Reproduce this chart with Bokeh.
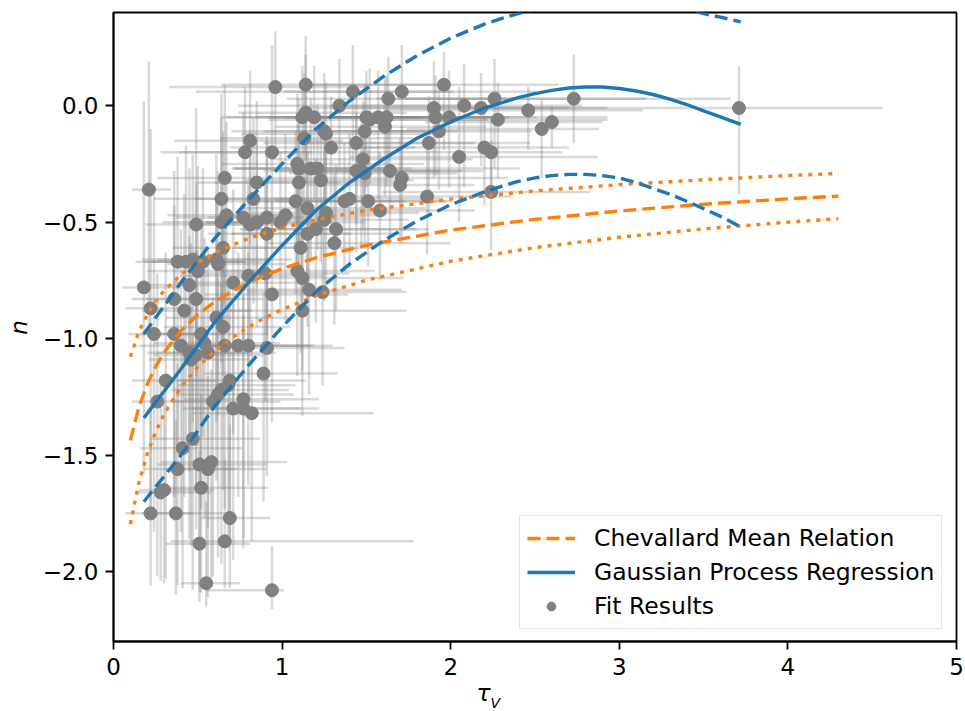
import math
from bokeh.plotting import figure
from bokeh.models import (Range1d, FixedTicker, CustomJSTickFormatter, Legend,
                          LegendItem, Label)
from bokeh.embed import file_html
from bokeh.resources import INLINE

# ---------------- data ----------------
tau_v = [0.96, 1.14, 1.12, 1.14, 1.13, 0.81, 0.78, 0.94, 1.09, 1.10,
         0.66, 0.85, 1.10, 0.21, 0.64, 0.83, 1.08, 1.15, 0.67, 0.77,
         0.81, 0.85, 0.91, 1.02, 0.99, 0.64, 0.49, 0.91, 1.15, 1.11,
         0.65, 1.96, 1.42, 1.71, 1.63, 2.26, 1.34, 2.08, 1.90, 2.18,
         1.19, 1.91, 1.50, 1.52, 1.57, 1.62, 1.99, 2.28, 1.25, 1.26,
         1.49, 1.61, 1.93, 1.44, 1.29, 1.87, 2.20, 2.24, 2.05, 1.48,
         1.17, 1.21, 1.64, 1.44, 1.47, 1.49, 1.71, 1.70, 1.23, 1.86,
         2.24, 1.37, 1.40, 1.51, 1.58, 1.26, 1.25, 1.20, 1.32, 1.31,
         2.46, 2.73, 2.54, 2.60, 3.71,
         0.38, 0.43, 0.47, 0.53, 0.61, 0.62, 0.18, 0.50, 0.45, 0.71,
         0.80, 0.90, 1.09, 1.12, 1.16, 0.94, 0.49, 0.22, 0.36, 0.42,
         0.61, 0.65, 0.24, 0.36, 0.52, 0.40, 0.54, 0.66, 0.74, 0.80,
         0.45, 0.49, 0.46, 0.56, 0.91, 0.89, 0.31, 0.69, 0.68, 0.64,
         0.62, 0.59, 0.77, 0.71, 0.77, 0.82, 0.26, 0.41, 0.47, 0.38,
         0.51, 0.58, 0.56, 0.28, 0.30, 0.52, 0.22, 0.37, 0.69, 0.51,
         0.66, 0.55, 0.94, 1.24, 1.12]

n_val = [0.08, 0.09, -0.05, -0.03, -0.14, -0.15, -0.20, -0.20, -0.25, -0.27,
         -0.31, -0.33, -0.33, -0.36, -0.40, -0.40, -0.41, -0.44, -0.47, -0.48,
         -0.51, -0.50, -0.48, -0.47, -0.50, -0.50, -0.51, -0.55, -0.55, -0.61,
         -0.61, 0.09, 0.06, 0.06, 0.03, 0.03, 0.00, 0.00, -0.01, -0.01,
         -0.05, -0.05, -0.05, -0.06, -0.05, -0.05, -0.05, -0.06, -0.11, -0.12,
         -0.11, -0.09, -0.11, -0.16, -0.18, -0.16, -0.18, -0.20, -0.22, -0.23,
         -0.27, -0.27, -0.28, -0.28, -0.28, -0.29, -0.31, -0.34, -0.32, -0.39,
         -0.37, -0.41, -0.40, -0.41, -0.45, -0.46, -0.49, -0.53, -0.53, -0.59,
         -0.02, 0.03, -0.10, -0.07, -0.01,
         -0.67, -0.67, -0.66, -0.67, -0.66, -0.68, -0.78, -0.71, -0.77, -0.76,
         -0.73, -0.72, -0.71, -0.74, -0.79, -0.81, -0.83, -0.87, -0.83, -0.88,
         -0.91, -0.95, -0.98, -0.98, -0.98, -1.03, -1.02, -1.03, -1.03, -1.03,
         -1.06, -1.07, -1.09, -1.06, -1.04, -1.15, -1.18, -1.18, -1.20, -1.22,
         -1.24, -1.27, -1.26, -1.30, -1.30, -1.32, -1.27, -1.47, -1.43, -1.56,
         -1.54, -1.53, -1.56, -1.66, -1.65, -1.64, -1.75, -1.75, -1.77, -1.88,
         -1.87, -2.05, -2.08, -0.80, -0.88]

tau_err_lo = [0.63, 0.50, 0.45, 0.40, 0.50, 0.45, 0.50, 0.55, 0.45, 0.40,
              0.40, 0.35, 0.50, 0.10, 0.40, 0.35, 0.45, 0.40, 0.35, 0.40,
              0.35, 0.30, 0.35, 0.40, 0.45, 0.35, 0.30, 0.35, 0.45, 0.40,
              0.30, 0.85, 0.93, 0.70, 0.60, 0.70, 0.60, 0.80, 0.75, 0.85,
              0.55, 0.70, 0.65, 0.60, 0.55, 0.70, 0.75, 0.80, 0.55, 0.50,
              0.60, 0.65, 0.70, 0.55, 0.60, 0.75, 0.80, 0.70, 0.65, 0.55,
              0.45, 0.50, 0.60, 0.55, 0.50, 0.45, 0.60, 0.55, 0.45, 0.55,
              0.65, 0.50, 0.45, 0.55, 0.50, 0.45, 0.40, 0.45, 0.50, 0.40,
              0.85, 1.00, 0.80, 0.75, 1.60,
              0.25, 0.25, 0.30, 0.30, 0.35, 0.30, 0.13, 0.30, 0.30, 0.35,
              0.40, 0.40, 0.45, 0.40, 0.45, 0.40, 0.30, 0.15, 0.25, 0.25,
              0.30, 0.35, 0.15, 0.20, 0.30, 0.25, 0.30, 0.30, 0.35, 0.35,
              0.25, 0.25, 0.25, 0.30, 0.40, 0.35, 0.20, 0.30, 0.30, 0.30,
              0.25, 0.25, 0.35, 0.30, 0.30, 0.35, 0.15, 0.25, 0.25, 0.20,
              0.25, 0.30, 0.25, 0.15, 0.15, 0.25, 0.15, 0.20, 0.17, 0.20,
              0.32, 0.15, 0.39, 0.45, 0.45]

tau_err_hi = [0.55, 0.80, 0.70, 0.60, 0.65, 0.55, 0.40, 0.60, 0.75, 0.55,
              0.45, 0.50, 0.60, 0.13, 0.50, 0.45, 0.65, 0.70, 0.40, 0.35,
              0.40, 0.45, 0.55, 0.60, 0.50, 0.40, 0.40, 0.50, 0.55, 0.45,
              0.45, 0.68, 0.60, 0.80, 0.70, 0.90, 0.75, 0.70, 0.80, 0.75,
              0.65, 0.60, 0.85, 0.70, 0.75, 0.65, 0.94, 0.65, 0.60, 0.70,
              0.55, 0.60, 0.55, 0.70, 0.50, 0.60, 0.50, 0.42, 0.82, 0.65,
              0.60, 1.20, 0.55, 0.50, 0.60, 0.55, 0.63, 0.44, 0.55, 0.50,
              0.59, 0.60, 0.55, 0.50, 0.56, 0.55, 0.50, 0.60, 0.55, 0.69,
              0.68, 0.93, 0.34, 0.30, 0.85,
              0.40, 0.35, 0.45, 0.40, 0.45, 0.40, 0.20, 0.40, 0.35, 0.45,
              0.45, 0.50, 0.46, 0.60, 0.55, 0.45, 0.40, 0.25, 0.35, 0.40,
              0.45, 0.40, 0.30, 0.30, 0.40, 0.35, 0.45, 0.50, 0.45, 0.50,
              0.35, 0.40, 0.35, 0.40, 0.46, 0.44, 0.30, 0.45, 0.40, 0.40,
              0.45, 0.40, 0.45, 0.40, 0.45, 0.72, 0.30, 0.35, 0.40, 0.35,
              0.40, 0.45, 0.35, 0.30, 0.30, 0.40, 0.25, 0.30, 0.24, 0.30,
              1.12, 0.20, 0.07, 0.50, 0.62]

n_err_lo = [0.30, 0.32, 0.35, 0.30, 0.40, 0.45, 0.50, 0.40, 0.45, 0.35,
            0.55, 0.45, 0.40, 0.60, 0.55, 0.45, 0.40, 0.40, 0.50, 0.55,
            0.50, 0.45, 0.50, 0.45, 0.40, 0.60, 0.65, 0.50, 0.40, 0.45,
            0.55, 0.28, 0.30, 0.35, 0.30, 0.30, 0.28, 0.35, 0.30, 0.25,
            0.35, 0.25, 0.30, 0.28, 0.35, 0.30, 0.30, 0.25, 0.35, 0.30,
            0.32, 0.30, 0.25, 0.35, 0.35, 0.30, 0.25, 0.20, 0.28, 0.30,
            0.40, 0.35, 0.30, 0.35, 0.32, 0.30, 0.28, 0.25, 0.35, 0.25,
            0.25, 0.30, 0.30, 0.28, 0.30, 0.35, 0.35, 0.40, 0.35, 0.35,
            0.17, 0.19, 0.21, 0.11, 0.37,
            0.80, 0.75, 0.70, 0.75, 0.70, 0.65, 0.80, 0.75, 0.80, 0.65,
            0.60, 0.55, 0.45, 0.40, 0.45, 0.55, 0.80, 0.85, 0.85, 0.80,
            0.70, 0.70, 0.85, 0.80, 0.75, 0.80, 0.75, 0.70, 0.65, 0.60,
            0.80, 0.75, 0.80, 0.75, 0.55, 0.55, 0.85, 0.70, 0.70, 0.75,
            0.70, 0.75, 0.60, 0.65, 0.60, 0.55, 0.75, 0.60, 0.65, 0.50,
            0.55, 0.50, 0.55, 0.38, 0.40, 0.45, 0.31, 0.35, 0.30, 0.25,
            0.20, 0.10, 0.08, 0.40, 0.45]

n_err_hi = [0.24, 0.21, 0.22, 0.25, 0.28, 0.30, 0.28, 0.46, 0.30, 0.30,
            0.40, 0.35, 0.25, 0.55, 0.45, 0.35, 0.30, 0.30, 0.40, 0.45,
            0.40, 0.35, 0.35, 0.35, 0.30, 0.45, 0.50, 0.40, 0.35, 0.40,
            0.50, 0.14, 0.20, 0.20, 0.18, 0.17, 0.20, 0.18, 0.20, 0.15,
            0.22, 0.18, 0.20, 0.22, 0.20, 0.18, 0.20, 0.16, 0.25, 0.22,
            0.20, 0.22, 0.20, 0.25, 0.22, 0.20, 0.20, 0.15, 0.30, 0.25,
            0.30, 0.28, 0.22, 0.25, 0.24, 0.25, 0.22, 0.20, 0.28, 0.25,
            0.22, 0.25, 0.28, 0.22, 0.25, 0.28, 0.30, 0.30, 0.28, 0.30,
            0.10, 0.19, 0.13, 0.07, 0.18,
            0.45, 0.50, 0.45, 0.40, 0.45, 0.40, 0.80, 0.45, 0.50, 0.40,
            0.40, 0.40, 0.35, 0.30, 0.35, 0.40, 0.50, 0.77, 0.55, 0.50,
            0.50, 0.45, 0.60, 0.55, 0.50, 0.50, 0.45, 0.45, 0.40, 0.40,
            0.50, 0.45, 0.50, 0.45, 0.35, 0.35, 0.55, 0.45, 0.45, 0.45,
            0.50, 0.45, 0.45, 0.45, 0.40, 0.40, 0.55, 0.50, 0.45, 0.45,
            0.45, 0.40, 0.40, 0.50, 0.45, 0.40, 0.45, 0.40, 0.40, 0.40,
            0.35, 0.35, 0.19, 0.35, 0.35]

# Chevallard mean relation and its band
chev_tau = [0.10, 0.15, 0.20, 0.25, 0.30, 0.40, 0.50, 0.60, 0.70, 0.80,
            0.90, 1.00, 1.20, 1.50, 2.00, 2.50, 3.00, 3.50, 4.00, 4.30]
chev_n = [-1.437, -1.295, -1.196, -1.120, -1.059, -0.966, -0.897, -0.842, -0.798, -0.760,
          -0.728, -0.700, -0.653, -0.599, -0.534, -0.488, -0.452, -0.423, -0.400, -0.388]
chev_upper = [-1.078, -0.971, -0.897, -0.840, -0.794, -0.725, -0.673, -0.632, -0.599, -0.570,
              -0.546, -0.525, -0.490, -0.449, -0.401, -0.366, -0.339, -0.318, -0.300, -0.291]
chev_lower = [-1.796, -1.619, -1.495, -1.400, -1.324, -1.208, -1.121, -1.053, -0.998, -0.950,
              -0.910, -0.875, -0.816, -0.749, -0.668, -0.609, -0.565, -0.529, -0.500, -0.485]

# Gaussian process regression mean and band
gp_tau = [0.18, 0.40, 0.60, 0.80, 1.00, 1.20, 1.40, 1.60, 1.80, 2.00,
          2.20, 2.30, 2.40, 2.50, 2.60, 2.70, 2.80, 2.90, 3.00, 3.10,
          3.20, 3.30, 3.40, 3.50, 3.60, 3.72]
gp_mean = [-1.34, -1.13, -0.93, -0.76, -0.60, -0.45, -0.33, -0.23, -0.14, -0.07,
           -0.010, 0.012, 0.035, 0.052, 0.066, 0.076, 0.080, 0.080, 0.074, 0.063,
           0.048, 0.028, 0.005, -0.022, -0.048, -0.080]
gp_upper = [-0.98, -0.76, -0.57, -0.405, -0.25, -0.10, 0.02, 0.125, 0.215, 0.29,
            0.350, 0.374, 0.395, 0.414, 0.430, 0.444, 0.455, 0.460, 0.460, 0.455,
            0.447, 0.433, 0.415, 0.395, 0.380, 0.360]
gp_lower = [-1.70, -1.50, -1.29, -1.115, -0.95, -0.80, -0.68, -0.58, -0.495, -0.425,
            -0.370, -0.346, -0.325, -0.310, -0.300, -0.295, -0.295, -0.300, -0.310, -0.330,
            -0.355, -0.380, -0.410, -0.442, -0.475, -0.520]

x_ticks = [0, 1, 2, 3, 4, 5]
y_ticks = [-2.0, -1.5, -1.0, -0.5, 0.0]

# ---------------- styling ----------------
BLUE = "#1f77b4"
ORANGE = "#ff7f0e"
GRAY = "#808080"
FONT = "DejaVu Sans"
FS = "23.5px"
TICK_FS = "23px"

p = figure(width=965, height=711, output_backend="svg", toolbar_location=None,
           x_range=Range1d(0, 5), y_range=Range1d(-2.3, 0.4),
           min_border_left=113, min_border_right=9, min_border_top=12,
           min_border_bottom=70)
p.grid.visible = False
p.outline_line_color = "black"
p.outline_line_width = 1.8
p.background_fill_color = "white"
p.border_fill_color = "white"

for ax in (p.xaxis[0], p.yaxis[0]):
    ax.axis_line_width = 1.8
    ax.major_tick_line_width = 1.8
    ax.major_tick_out = 8
    ax.major_tick_in = 0
    ax.minor_tick_line_color = None
    ax.major_label_text_font = FONT
    ax.major_label_text_font_size = TICK_FS
    ax.major_label_text_color = "black"
p.xaxis.major_label_standoff = 8
p.yaxis.major_label_standoff = 7

p.xaxis.ticker = FixedTicker(ticks=x_ticks)
p.yaxis.ticker = FixedTicker(ticks=y_ticks)
p.xaxis.formatter = CustomJSTickFormatter(code="return tick.toFixed(0);")
p.yaxis.formatter = CustomJSTickFormatter(
    code="return (tick < 0 ? '\u2212' : '') + Math.abs(tick).toFixed(1);")

# error bars
hx0 = [x - lo for x, lo in zip(tau_v, tau_err_lo)]
hx1 = [x + hi for x, hi in zip(tau_v, tau_err_hi)]
vy0 = [y - lo for y, lo in zip(n_val, n_err_lo)]
vy1 = [y + hi for y, hi in zip(n_val, n_err_hi)]
p.segment(x0=hx0, y0=n_val, x1=hx1, y1=n_val, line_color=GRAY,
          line_alpha=0.3, line_width=2.5)
p.segment(x0=tau_v, y0=vy0, x1=tau_v, y1=vy1, line_color=GRAY,
          line_alpha=0.3, line_width=2.5)

r_pts = p.scatter(tau_v, n_val, size=13, fill_color=GRAY, line_color=GRAY,
                  marker="circle")

# Chevallard relation
r_chev = p.line(chev_tau, chev_n, line_color=ORANGE, line_width=3.4,
                line_dash="13 6")
p.line(chev_tau, chev_upper, line_color=ORANGE, line_width=3.4, line_dash="4 6")
p.line(chev_tau, chev_lower, line_color=ORANGE, line_width=3.4, line_dash="4 6")

# GPR
r_gp = p.line(gp_tau, gp_mean, line_color=BLUE, line_width=3.4)
p.line(gp_tau, gp_upper, line_color=BLUE, line_width=3.4, line_dash="13 6")
p.line(gp_tau, gp_lower, line_color=BLUE, line_width=3.4, line_dash="13 6")

legend = Legend(items=[
    LegendItem(label="Chevallard Mean Relation", renderers=[r_chev]),
    LegendItem(label="Gaussian Process Regression", renderers=[r_gp]),
    LegendItem(label="Fit Results", renderers=[r_pts]),
], location=(406, 12), orientation="vertical",
    label_text_font=FONT, label_text_font_size=FS, label_text_color="black",
    glyph_width=48, glyph_height=22, label_height=30, label_standoff=19,
    spacing=4, padding=7, margin=0,
    border_line_color="#cccccc", border_line_width=1.5,
    background_fill_color="white", background_fill_alpha=0.8)
p.add_layout(legend)

# x-axis label: tau in the panel below the axis
p.add_layout(Label(x=363, y=-1, x_units="screen", y_units="screen", text="τ",
                   text_font=FONT, text_font_size=FS, text_font_style="italic",
                   text_color="black"), "below")
# y-axis label "n" and the subscript V, placed in left-hand panels
p.add_layout(Label(x=5, y=314, x_units="screen", y_units="screen", text="n",
                   text_font=FONT, text_font_size="23px", text_font_style="italic",
                   text_color="black", angle=math.pi / 2,
                   text_align="center", text_baseline="middle"), "left")
p.add_layout(Label(x=487, y=-69, x_units="screen", y_units="screen", text="V",
                   text_font=FONT, text_font_size="14px", text_font_style="italic",
                   text_color="black"), "left")

open("out.html", "w").write(file_html(p, INLINE))
